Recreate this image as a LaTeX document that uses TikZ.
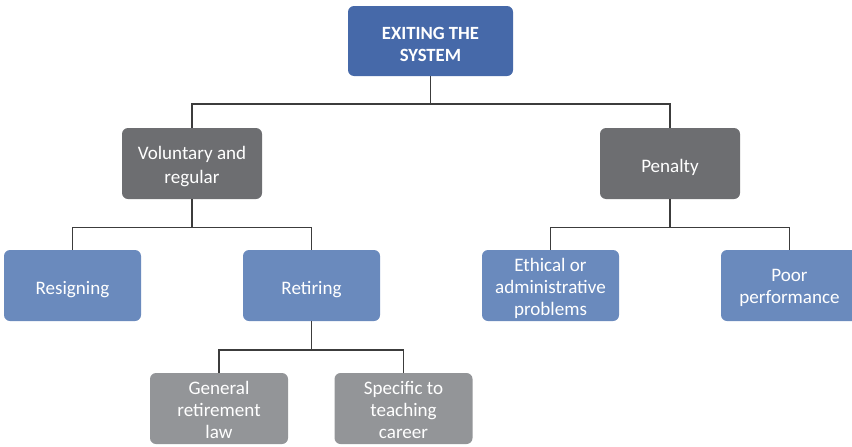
\documentclass[tikz,border=0pt]{standalone}
\usepackage{fontspec}
\setmainfont{Carlito}
\definecolor{topblue}{HTML}{4669A9}
\definecolor{midblue}{HTML}{6A8ABD}
\definecolor{darkgrey}{HTML}{6D6E71}
\definecolor{lightgrey}{HTML}{939598}
\definecolor{linegrey}{HTML}{3C3C3C}
\begin{document}
\begin{tikzpicture}[x=0.75pt,y=-0.75pt,
  box/.style={rounded corners=4.5pt, inner sep=0pt,
    minimum width=102.75pt, minimum height=53.25pt},
  boxtext/.style={text=white, align=center, inner sep=0pt, yshift=-2pt,
    font=\fontsize{14.3}{16.6}\selectfont},
  roottext/.style={boxtext, yshift=-0.6pt, font=\fontsize{14}{17}\selectfont\bfseries},
  rootbox/.style={box, fill=topblue, minimum width=123.75pt, minimum height=52.5pt},
  groupbox/.style={box, fill=darkgrey, minimum width=105pt},
  leafbox/.style={box, fill=midblue},
  subbox/.style={box, fill=lightgrey, minimum width=103.5pt},
  link/.style={draw=linegrey, line width=0.85pt}]
\useasboundingbox (0,0) rectangle (852,446);

% boxes, each with its caption set a little below the geometric centre
\node[rootbox]  (root) at (430.5,41)    [label={[roottext]center:{EXITING THE\\SYSTEM}}] {};
\node[groupbox] (vol)  at (192,163.5)   [label={[boxtext, yshift=-0.6pt, font=\fontsize{14.3}{18}\selectfont]center:{Voluntary and\\regular}}] {};
\node[groupbox] (pen)  at (670,163.5)   [label={[boxtext, yshift=-0.8pt]center:Penalty}] {};
\node[leafbox]  (res)  at (72.5,285.5)  [label={[boxtext, yshift=-0.8pt]center:Resigning}] {};
\node[leafbox]  (ret)  at (311.5,285.5) [label={[boxtext, yshift=-0.8pt]center:Retiring}] {};
\node[leafbox]  (eth)  at (550.5,285.5) [label={[boxtext]center:{Ethical or\\administrative\\problems}}] {};
\node[leafbox]  (poor) at (789.5,285.5) [label={[boxtext]center:{Poor\\performance}}] {};
\node[subbox]   (gen)  at (219,408.5)   [label={[boxtext, yshift=1pt]center:{General\\retirement\\law}}] {};
\node[subbox]   (spec) at (403.5,408.5) [label={[boxtext, yshift=1pt]center:{Specific to\\teaching\\career}}] {};

% bus levels for the elbow connectors
\coordinate (busA) at (0,104);
\coordinate (busB) at (0,227.5);
\coordinate (busC) at (0,350);

% connectors
\draw[link] (root.south) -- (root.south |- busA);
\draw[link] (vol.north) -- (vol.north |- busA) -- (pen.north |- busA) -- (pen.north);

\draw[link] (vol.south) -- (vol.south |- busB);
\draw[link] (res.north) -- (res.north |- busB) -- (ret.north |- busB) -- (ret.north);

\draw[link] (pen.south) -- (pen.south |- busB);
\draw[link] (eth.north) -- (eth.north |- busB) -- (poor.north |- busB) -- (poor.north);

\draw[link] (ret.south) -- (ret.south |- busC);
\draw[link] (gen.north) -- (gen.north |- busC) -- (spec.north |- busC) -- (spec.north);
\end{tikzpicture}
\end{document}
